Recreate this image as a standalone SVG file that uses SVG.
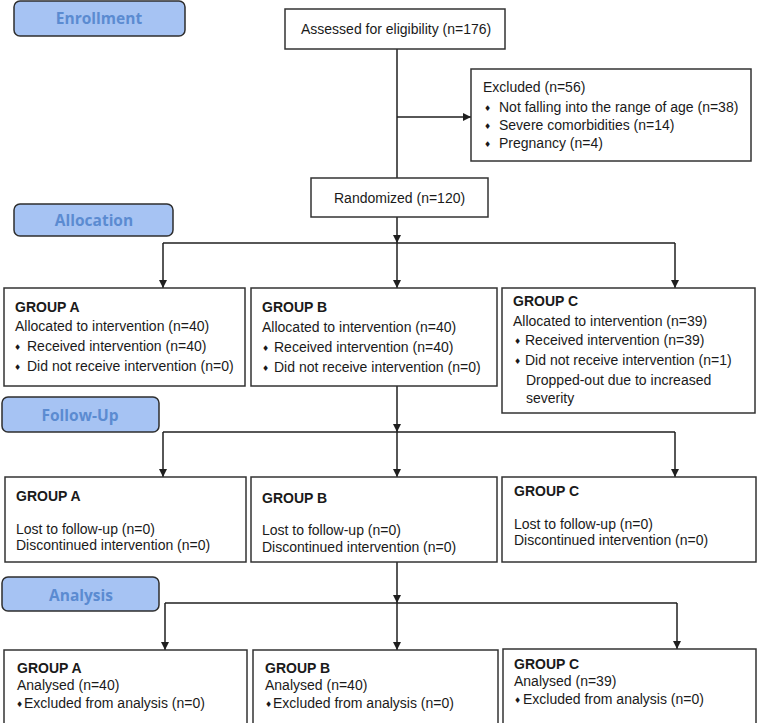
<svg xmlns="http://www.w3.org/2000/svg" width="758" height="723" viewBox="0 0 758 723">
<defs>
<style>
.box{fill:#ffffff;stroke:#333333;stroke-width:1.5}
.pill{fill:#a6c3f3;stroke:#2e2e2e;stroke-width:1.5}
.pt{font-family:"Open Sans","Liberation Sans",sans-serif;font-weight:bold;font-size:15.5px;fill:#5b8bd1;text-anchor:middle}
.t{font-family:"Liberation Sans",Arial,sans-serif;font-size:14px;fill:#1a1a1a}
.b{font-family:"Liberation Sans",Arial,sans-serif;font-size:14px;font-weight:bold;fill:#1a1a1a}
.d{font-family:"DejaVu Sans",sans-serif;font-size:8px;fill:#1a1a1a}
.ln{fill:none;stroke:#1f1f1f;stroke-width:1.5}
</style>
<marker id="ah" viewBox="0 0 10 10" refX="10" refY="5" markerWidth="8" markerHeight="8" markerUnits="userSpaceOnUse" orient="auto">
<path d="M0,0 L10,5 L0,10 z" fill="#1f1f1f"/>
</marker>
</defs>
<rect width="758" height="723" fill="#ffffff"/>

<g id="pill-enrollment"><rect class="pill" x="14" y="1" width="171" height="35" rx="6"/><text class="pt" x="99" y="24">Enrollment</text></g>
<g id="pill-allocation"><rect class="pill" x="14" y="204" width="159" height="32" rx="6"/><text class="pt" x="94" y="226">Allocation</text></g>
<g id="pill-followup"><rect class="pill" x="2" y="397" width="157" height="35" rx="6"/><text class="pt" x="80" y="421">Follow-Up</text></g>
<g id="pill-analysis"><rect class="pill" x="2" y="577" width="157" height="34" rx="6"/><text class="pt" x="81" y="601">Analysis</text></g>

<g id="connectors">
<path class="ln" d="M397,49 V178"/>
<path class="ln" d="M397,117 H471" marker-end="url(#ah)"/>
<path class="ln" d="M397,217 V243" marker-end="url(#ah)"/>
<path class="ln" d="M163,243 H675"/>
<path class="ln" d="M163,243 V288" marker-end="url(#ah)"/>
<path class="ln" d="M397,243 V288" marker-end="url(#ah)"/>
<path class="ln" d="M675,243 V288" marker-end="url(#ah)"/>
<path class="ln" d="M397,386 V432" marker-end="url(#ah)"/>
<path class="ln" d="M163,432 H675"/>
<path class="ln" d="M163,432 V477" marker-end="url(#ah)"/>
<path class="ln" d="M397,432 V477" marker-end="url(#ah)"/>
<path class="ln" d="M675,432 V477" marker-end="url(#ah)"/>
<path class="ln" d="M397,562 V603" marker-end="url(#ah)"/>
<path class="ln" d="M165,603 H677"/>
<path class="ln" d="M165,603 V650" marker-end="url(#ah)"/>
<path class="ln" d="M397,603 V650" marker-end="url(#ah)"/>
<path class="ln" d="M677,603 V649" marker-end="url(#ah)"/>
</g>

<g id="assessed"><rect class="box" x="285" y="9" width="220" height="40"/><text class="t" x="301" y="34">Assessed for eligibility (n=176)</text></g>

<g id="excluded"><rect class="box" x="471" y="69" width="280" height="92"/>
<text class="t" x="483" y="92">Excluded (n=56)</text>
<text class="d" x="484" y="111">♦</text><text class="t" x="499" y="112">Not falling into the range of age (n=38)</text>
<text class="d" x="484" y="129">♦</text><text class="t" x="499" y="130">Severe comorbidities (n=14)</text>
<text class="d" x="484" y="147">♦</text><text class="t" x="499" y="148">Pregnancy (n=4)</text>
</g>

<g id="randomized"><rect class="box" x="311" y="178" width="177" height="39"/><text class="t" x="334" y="203">Randomized (n=120)</text></g>

<g id="alloc-a"><rect class="box" x="4" y="288" width="241" height="98"/>
<text class="b" x="15" y="312">GROUP A</text>
<text class="t" x="15" y="331">Allocated to intervention (n=40)</text>
<text class="d" x="14" y="350">♦</text><text class="t" x="27" y="351">Received intervention (n=40)</text>
<text class="d" x="14" y="370">♦</text><text class="t" x="27" y="371">Did not receive intervention (n=0)</text>
</g>

<g id="alloc-b"><rect class="box" x="251" y="288" width="246" height="98"/>
<text class="b" x="262" y="312">GROUP B</text>
<text class="t" x="262" y="332">Allocated to intervention (n=40)</text>
<text class="d" x="262" y="351">♦</text><text class="t" x="274" y="352">Received intervention (n=40)</text>
<text class="d" x="262" y="371">♦</text><text class="t" x="274" y="372">Did not receive intervention (n=0)</text>
</g>

<g id="alloc-c"><rect class="box" x="502" y="288" width="253" height="125"/>
<text class="b" x="513" y="306">GROUP C</text>
<text class="t" x="513" y="326">Allocated to intervention (n=39)</text>
<text class="d" x="514" y="344">♦</text><text class="t" x="525" y="345">Received intervention (n=39)</text>
<text class="d" x="514" y="364">♦</text><text class="t" x="525" y="365">Did not receive intervention (n=1)</text>
<text class="t" x="526" y="385">Dropped-out due to increased</text>
<text class="t" x="526" y="403">severity</text>
</g>

<g id="follow-a"><rect class="box" x="5" y="477" width="241" height="85"/>
<text class="b" x="16" y="501">GROUP A</text>
<text class="t" x="16" y="534">Lost to follow-up (n=0)</text>
<text class="t" x="16" y="550">Discontinued intervention (n=0)</text>
</g>

<g id="follow-b"><rect class="box" x="251" y="477" width="246" height="85"/>
<text class="b" x="262" y="503">GROUP B</text>
<text class="t" x="262" y="535">Lost to follow-up (n=0)</text>
<text class="t" x="262" y="552">Discontinued intervention (n=0)</text>
</g>

<g id="follow-c"><rect class="box" x="502" y="477" width="254" height="85"/>
<text class="b" x="514" y="496">GROUP C</text>
<text class="t" x="514" y="529">Lost to follow-up (n=0)</text>
<text class="t" x="514" y="545">Discontinued intervention (n=0)</text>
</g>

<g id="analysis-a"><rect class="box" x="4" y="650" width="243" height="80"/>
<text class="b" x="17" y="673">GROUP A</text>
<text class="t" x="17" y="690">Analysed (n=40)</text>
<text class="d" x="16" y="707">♦</text><text class="t" x="24" y="708">Excluded from analysis (n=0)</text>
</g>

<g id="analysis-b"><rect class="box" x="253" y="650" width="245" height="80"/>
<text class="b" x="265" y="673">GROUP B</text>
<text class="t" x="265" y="690">Analysed (n=40)</text>
<text class="d" x="265" y="707">♦</text><text class="t" x="273" y="708">Excluded from analysis (n=0)</text>
</g>

<g id="analysis-c"><rect class="box" x="503" y="649" width="253" height="80"/>
<text class="b" x="514" y="669">GROUP C</text>
<text class="t" x="514" y="686">Analysed (n=39)</text>
<text class="d" x="514" y="703">♦</text><text class="t" x="523" y="704">Excluded from analysis (n=0)</text>
</g>
</svg>
